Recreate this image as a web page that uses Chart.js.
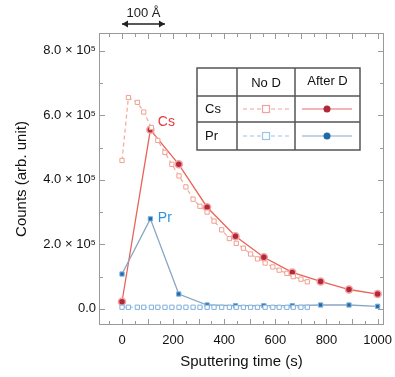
<!DOCTYPE html>
<html>
<head>
<meta charset="utf-8">
<script src="https://cdn.jsdelivr.net/npm/chart.js@4.4.1/dist/chart.umd.min.js"></script>
<style>
  html, body { margin: 0; padding: 0; background: #fff; }
  #wrap { width: 395px; height: 377px; }
</style>
</head>
<body>
<div id="wrap"><canvas id="chart" width="395" height="377"></canvas></div>
<script>
// sputtering time (s)
var timeNoD = [0, 25, 60, 85, 115, 140, 168, 195, 223, 250, 278, 305, 333, 360, 390, 420, 447, 475, 503, 530, 560, 590, 615, 645, 670, 700, 725];
var timeAfterD = [0, 111, 222, 333, 444, 555, 666, 777, 888, 1000];

// counts (arb. unit)
var csNoD = [460000, 655000, 640000, 610000, 562000, 522000, 485000, 448000, 412000, 378000, 340000, 318000, 300000, 272000, 245000, 218000, 203000, 188000, 170000, 155000, 142000, 130000, 120000, 110000, 100000, 92000, 84000];
var csAfterD = [22000, 555000, 448000, 315000, 225000, 160000, 113000, 85000, 60000, 46000];
var prNoD = [5000, 5000, 5000, 5000, 5000, 5000, 5000, 5000, 5000, 5000, 5000, 5000, 5000, 5000, 5000, 5000, 5000, 5000, 5000, 5000, 5000, 5000, 5000, 5000, 5000, 5000, 5000];
var prAfterD = [108000, 279000, 46000, 12000, 10000, 10000, 10000, 12000, 12000, 8000];

var xTicks = [0, 200, 400, 600, 800, 1000];
var yTicks = [0, 200000, 400000, 600000, 800000];

var RED = '#e8393c';
var BLUE = '#2b93e0';
var FONT = '"Liberation Sans", Arial, sans-serif';

function pts(xs, ys) {
    return xs.map(function(x, i) { return {x: x, y: ys[i]}; });
}

function yLabel(v) {
    if (v === 0) return '0.0';
    return (v / 100000).toFixed(1) + ' \u00d7 10\u2075';
}

// frame, inward ticks, table legend, labels
var decor = {
    id: 'decor',
    afterDraw: function(chart) {
        var c = chart.ctx, a = chart.chartArea;
        var xs = chart.scales.x, ys = chart.scales.y;
        c.save();
        c.strokeStyle = '#9a9a9a';
        c.lineWidth = 1;
        c.strokeRect(a.left + 0.5, a.top + 0.5, a.right - a.left - 1, a.bottom - a.top - 1);
        c.beginPath();
        for (var t = -50; t <= 1000; t += 50) {
            var px = Math.round(xs.getPixelForValue(t)) + 0.5;
            var len = (t % 100 === 0) ? 6 : 4;
            c.moveTo(px, a.bottom); c.lineTo(px, a.bottom - len);
            c.moveTo(px, a.top); c.lineTo(px, a.top + len);
        }
        for (var v = 0; v <= 800000; v += 100000) {
            var py = Math.round(ys.getPixelForValue(v)) + 0.5;
            var l2 = (v % 200000 === 0) ? 6 : 4;
            c.moveTo(a.left, py); c.lineTo(a.left + l2, py);
            c.moveTo(a.right, py); c.lineTo(a.right - l2, py);
        }
        c.stroke();

        // 100 A scale bar
        var x0 = xs.getPixelForValue(0), x1 = xs.getPixelForValue(168);
        c.strokeStyle = '#222'; c.fillStyle = '#222'; c.lineWidth = 1.5;
        c.beginPath(); c.moveTo(x0, 24); c.lineTo(x1, 24); c.stroke();
        c.beginPath(); c.moveTo(x0, 24); c.lineTo(x0 + 6, 20.5); c.lineTo(x0 + 6, 27.5); c.closePath(); c.fill();
        c.beginPath(); c.moveTo(x1, 24); c.lineTo(x1 - 6, 20.5); c.lineTo(x1 - 6, 27.5); c.closePath(); c.fill();
        c.font = '13px ' + FONT;
        c.textAlign = 'center'; c.textBaseline = 'middle';
        c.fillText('100 \u00c5', (x0 + x1) / 2, 13);

        // series labels
        c.font = '14px ' + FONT;
        c.textAlign = 'left';
        c.fillStyle = RED;
        c.fillText('Cs', xs.getPixelForValue(140), ys.getPixelForValue(580000));
        c.fillStyle = BLUE;
        c.fillText('Pr', xs.getPixelForValue(140), ys.getPixelForValue(280000));

        // legend table
        var L = 197, T = 68, R = 360, B = 150;
        var cx = [L, 237, 295, R], ry = [T, 96, 122, B];
        c.fillStyle = '#fff';
        c.fillRect(L, T, R - L, B - T);
        c.strokeStyle = '#555'; c.lineWidth = 1.5;
        c.strokeRect(L, T, R - L, B - T);
        c.beginPath();
        c.moveTo(cx[1], T); c.lineTo(cx[1], B);
        c.moveTo(cx[2], T); c.lineTo(cx[2], B);
        c.moveTo(L, ry[1]); c.lineTo(R, ry[1]);
        c.moveTo(L, ry[2]); c.lineTo(R, ry[2]);
        c.stroke();
        c.fillStyle = '#111';
        c.font = '13px ' + FONT;
        c.textAlign = 'center';
        c.fillText('No D', (cx[1] + cx[2]) / 2, 83);
        c.fillText('After D', (cx[2] + cx[3]) / 2, 81);
        c.textAlign = 'left';
        c.fillText('Cs', 205, 109);
        c.fillText('Pr', 205, 136);

        var rows = [[109, '#f2a0a0', '#e86a6a', '#b0283a'], [136, '#9cc4e6', '#8aa6c4', '#1f6aa8']];
        rows.forEach(function(r) {
            var y = r[0];
            c.setLineDash([4, 3]); c.strokeStyle = r[1]; c.lineWidth = 1.2;
            c.beginPath(); c.moveTo(243, y); c.lineTo(290, y); c.stroke();
            c.setLineDash([]);
            c.fillStyle = '#fff'; c.fillRect(262, y - 3.5, 7, 7);
            c.strokeRect(262.5, y - 3.5, 7, 7);
            c.strokeStyle = r[2];
            c.beginPath(); c.moveTo(302, y); c.lineTo(352, y); c.stroke();
            c.fillStyle = r[3];
            c.beginPath(); c.arc(327, y, 3.5, 0, Math.PI * 2); c.fill();
        });
        c.restore();
    }
};

window.onload = function() {
    var ctx = document.getElementById('chart').getContext('2d');
    window.myChart = new Chart(ctx, {
        type: 'line',
        data: {
            datasets: [{
                label: 'Pr No D',
                data: pts(timeNoD, prNoD),
                borderColor: '#9cc4e6',
                borderDash: [4, 3],
                borderWidth: 1.2,
                pointStyle: 'rect',
                pointRadius: 3,
                pointBackgroundColor: '#fff',
                pointBorderColor: '#7fb0dc',
                pointBorderWidth: 1
            }, {
                label: 'Pr After D',
                data: pts(timeAfterD, prAfterD),
                borderColor: '#8aa6c4',
                borderWidth: 1.3,
                pointStyle: 'rect',
                pointRadius: 3,
                pointBackgroundColor: '#1f6aa8',
                pointBorderColor: '#7fb0dc',
                pointBorderWidth: 1
            }, {
                label: 'Cs No D',
                data: pts(timeNoD, csNoD),
                borderColor: '#f4a89a',
                borderDash: [4, 3],
                borderWidth: 1.2,
                pointStyle: 'rect',
                pointRadius: 3,
                pointBackgroundColor: '#fff',
                pointBorderColor: '#f0a090',
                pointBorderWidth: 1
            }, {
                label: 'Cs After D',
                data: pts(timeAfterD, csAfterD),
                borderColor: '#e8645a',
                borderWidth: 1.3,
                pointStyle: 'circle',
                pointRadius: 3.5,
                pointBackgroundColor: '#b0283a',
                pointBorderColor: '#f4a0a0',
                pointBorderWidth: 1.5
            }]
        },
        options: {
            responsive: false,
            animation: false,
            layout: { padding: { left: 0, right: 11, top: 33, bottom: 0 } },
            plugins: {
                legend: { display: false },
                tooltip: { enabled: false }
            },
            scales: {
                x: {
                    type: 'linear',
                    min: -90,
                    max: 1025,
                    afterBuildTicks: function(s) { s.ticks = xTicks.map(function(v) { return {value: v}; }); },
                    afterFit: function(s) { s.height = 52; s.paddingLeft = 0; s.paddingRight = 0; },
                    grid: { display: false, drawTicks: false },
                    border: { display: false },
                    ticks: {
                        padding: 8,
                        color: '#111',
                        font: { family: FONT, size: 13 },
                        maxRotation: 0,
                        callback: function(v) { return String(v); }
                    },
                    title: {
                        display: true,
                        text: 'Sputtering time (s)',
                        color: '#111',
                        padding: { top: 4, bottom: 6 },
                        font: { family: FONT, size: 15 }
                    }
                },
                y: {
                    type: 'linear',
                    min: -50000,
                    max: 855000,
                    afterBuildTicks: function(s) { s.ticks = yTicks.map(function(v) { return {value: v}; }); },
                    afterFit: function(s) { s.width = 99; s.paddingTop = 0; s.paddingBottom = 0; },
                    grid: { display: false, drawTicks: false },
                    border: { display: false },
                    ticks: {
                        padding: 3,
                        color: '#111',
                        font: { family: FONT, size: 13 },
                        callback: yLabel
                    },
                    title: {
                        display: true,
                        text: 'Counts (arb. unit)',
                        color: '#111',
                        padding: { top: 13, bottom: 4 },
                        font: { family: FONT, size: 15 }
                    }
                }
            }
        },
        plugins: [decor]
    });
};
</script>
</body>
</html>
